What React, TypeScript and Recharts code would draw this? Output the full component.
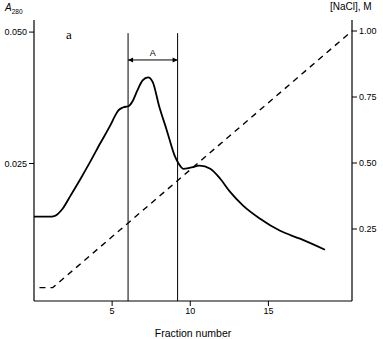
import React from "react";
import { LineChart, Line, XAxis, YAxis, ReferenceLine } from "recharts";

// absorbance trace
const fracA = [0, 1.0, 1.3, 1.83, 2.34, 3.0, 3.61, 4.25, 4.89, 5.21, 5.4, 5.72, 6.04, 6.3, 6.6, 6.95, 7.3, 7.6, 8.0, 8.5, 9.0, 9.25, 9.55, 10.0, 10.6, 11.28, 11.92, 12.55, 13.38, 14.47, 15.75, 17.02, 18.62];
const a280 = [0.0149, 0.0149, 0.015, 0.0164, 0.0189, 0.0222, 0.0254, 0.0289, 0.0323, 0.0342, 0.0351, 0.0357, 0.0359, 0.0368, 0.0388, 0.0408, 0.0414, 0.0405, 0.036, 0.0313, 0.0265, 0.025, 0.024, 0.0242, 0.0246, 0.024, 0.0221, 0.0196, 0.017, 0.0145, 0.0122, 0.0107, 0.0086];

// salt gradient (dashed)
const fracN = [0.35, 1.2, 20.35];
const nacl = [0.028, 0.028, 1.0];

const xTicks = [5, 10, 15];
const leftTicks = [0.025, 0.05];
const rightTicks = [0.25, 0.5, 0.75, 1.0];

// pooled fractions "A"
const poolStart = 6.02;
const poolEnd = 9.19;

const absData = fracA.map((f, i) => ({ f, a: a280[i] }));
const saltData = fracN.map((f, i) => ({ f, n: nacl[i] }));

const font = "'Liberation Sans', Arial, sans-serif";
const tick = { fontSize: 9, fill: "#000", fontFamily: font };

const ArrowLine = (p: any) => {
  const { x1, y1, x2, y2 } = p;
  const h = 5;
  return (
    <g>
      <line x1={x1} y1={y1} x2={x2} y2={y2} stroke="#000" strokeWidth={1} />
      <path d={`M${x1},${y1} L${x1 + h},${y1 - 2.5} L${x1 + h},${y1 + 2.5} Z`} fill="#000" />
      <path d={`M${x2},${y2} L${x2 - h},${y2 - 2.5} L${x2 - h},${y2 + 2.5} Z`} fill="#000" />
      <text x={(x1 + x2) / 2} y={y1 - 4} textAnchor="middle" fontSize={9} fontFamily={font}>A</text>
    </g>
  );
};

export default function App() {
  return (
    <div style={{ position: "absolute", left: 0, top: 0, width: 383, height: 339, background: "#fff" }}>
      <LineChart width={383} height={339} margin={{ top: 20, right: 0, left: 0, bottom: 0 }}>
        <XAxis
          dataKey="f" type="number" domain={[0, 20.35]} ticks={xTicks}
          allowDataOverflow height={38} tick={tick} tickSize={5}
          axisLine={{ stroke: "#000", strokeWidth: 1.2 }} tickLine={{ stroke: "#000" }}
          label={{ value: "Fraction number", position: "insideBottom", offset: 2, fontSize: 10.5, fill: "#000", fontFamily: font }}
        />
        <YAxis
          yAxisId="left" orientation="left" width={34} domain={[-0.00115, 0.0523]}
          ticks={leftTicks} tickFormatter={(v: number) => v.toFixed(3)} allowDataOverflow
          tick={tick} tickSize={5} axisLine={{ stroke: "#000", strokeWidth: 1.2 }} tickLine={{ stroke: "#000" }}
        />
        <YAxis
          yAxisId="right" orientation="right" width={31} domain={[-0.0227, 1.0417]}
          ticks={rightTicks} tickFormatter={(v: number) => v.toFixed(2)} allowDataOverflow
          tick={tick} tickSize={5} axisLine={{ stroke: "#000", strokeWidth: 1.2 }} tickLine={{ stroke: "#000" }}
        />
        <ReferenceLine yAxisId="left" segment={[{ x: poolStart, y: 0.0498 }, { x: poolStart, y: -0.00115 }]} stroke="#000" strokeWidth={1} />
        <ReferenceLine yAxisId="left" segment={[{ x: poolEnd, y: 0.0498 }, { x: poolEnd, y: -0.00115 }]} stroke="#000" strokeWidth={1} />
        <ReferenceLine yAxisId="left" segment={[{ x: poolStart, y: 0.0447 }, { x: poolEnd, y: 0.0447 }]} shape={ArrowLine} />
        <Line
          yAxisId="right" data={saltData} dataKey="n" type="linear" stroke="#000"
          strokeWidth={1.4} strokeDasharray="6 5" dot={false} isAnimationActive={false}
        />
        <Line
          yAxisId="left" data={absData} dataKey="a" type="monotone" stroke="#000"
          strokeWidth={1.8} dot={false} isAnimationActive={false}
        />
      </LineChart>
      <div style={{ position: "absolute", left: 5, top: 2, fontFamily: font, fontSize: 10, lineHeight: "12px" }}>
        <i>A</i><sub style={{ fontSize: 6.5 }}>280</sub>
      </div>
      <div style={{ position: "absolute", left: 330, top: 1, fontFamily: font, fontSize: 10, lineHeight: "12px" }}>
        [NaCl], M
      </div>
      <div style={{ position: "absolute", left: 66, top: 28, fontFamily: "'Liberation Serif', serif", fontSize: 13, lineHeight: "14px" }}>
        a
      </div>
    </div>
  );
}
